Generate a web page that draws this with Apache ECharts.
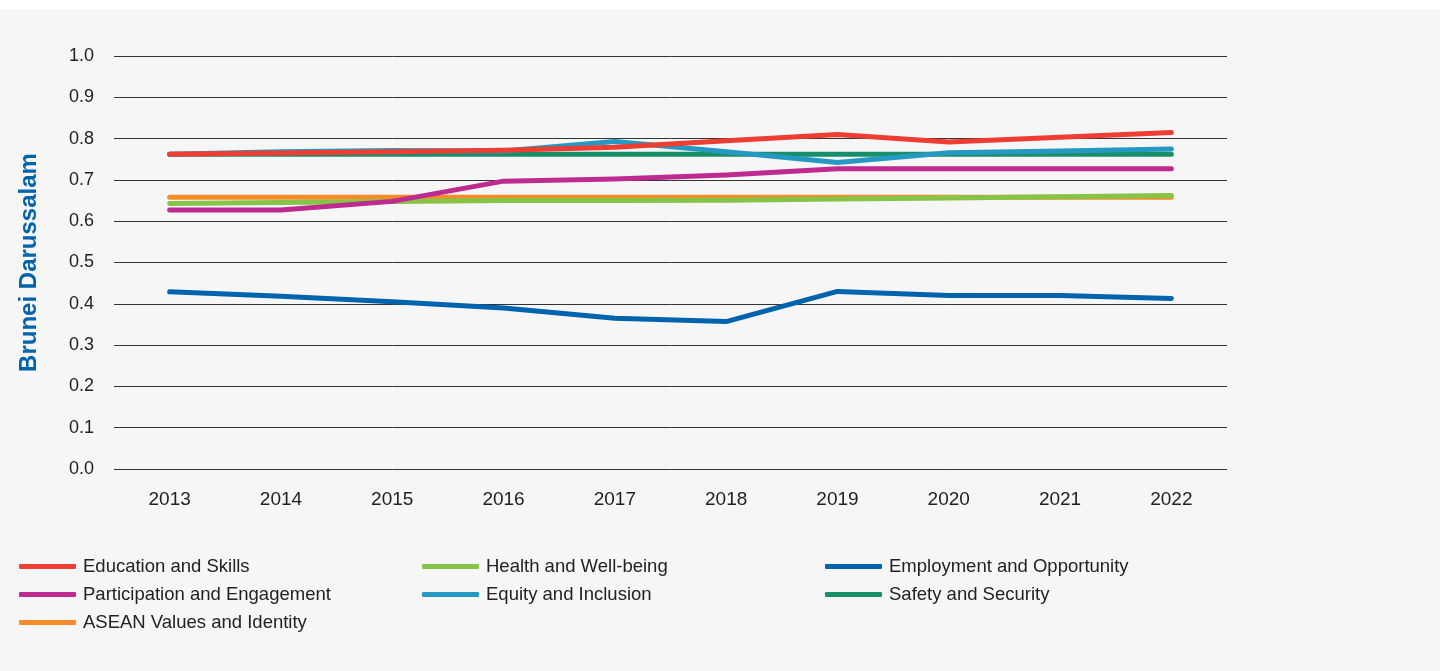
<!DOCTYPE html>
<html>
<head>
<meta charset="utf-8">
<script src="https://cdn.jsdelivr.net/npm/echarts@6/dist/echarts.min.js"></script>
<style>
  html, body { margin: 0; padding: 0; background: #ffffff; }
  #chart { position: absolute; top: 9px; left: 0; width: 1440px; height: 662px; background: #f6f6f6; }
</style>
</head>
<body>
<div id="chart"></div>
<script>
var years = ['2013', '2014', '2015', '2016', '2017', '2018', '2019', '2020', '2021', '2022'];

var education = [0.762, 0.765, 0.768, 0.772, 0.779, 0.795, 0.810, 0.792, 0.803, 0.815];
var health = [0.643, 0.645, 0.648, 0.650, 0.650, 0.651, 0.654, 0.656, 0.659, 0.662];
var employment = [0.429, 0.418, 0.405, 0.390, 0.365, 0.357, 0.430, 0.420, 0.420, 0.413];
var participation = [0.627, 0.627, 0.648, 0.697, 0.702, 0.712, 0.727, 0.727, 0.727, 0.727];
var equity = [0.762, 0.768, 0.771, 0.770, 0.793, 0.768, 0.742, 0.766, 0.770, 0.775];
var safety = [0.762, 0.762, 0.762, 0.762, 0.762, 0.762, 0.762, 0.762, 0.762, 0.762];
var asean = [0.658, 0.658, 0.658, 0.658, 0.658, 0.658, 0.658, 0.658, 0.658, 0.658];

var font = 'Liberation Sans, Arial, Helvetica, sans-serif';

function line(name, data, color, z) {
    return {
        name: name,
        type: 'line',
        data: data,
        z: z,
        symbol: 'none',
        lineStyle: { width: 5, color: color, cap: 'round', join: 'round' },
        itemStyle: { color: color }
    };
}

function legendCol(left, names) {
    return {
        orient: 'vertical',
        left: left,
        top: 548,
        padding: 0,
        itemWidth: 57,
        itemHeight: 5,
        itemGap: 9,
        icon: 'roundRect',
        data: names,
        textStyle: { fontFamily: font, fontSize: 18.5, lineHeight: 18, color: '#222222', padding: [0, 0, 0, 2] }
    };
}

var chart = echarts.init(document.getElementById('chart'));
chart.setOption({
    backgroundColor: '#f6f6f6',
    animation: false,
    grid: { left: 114, right: 213, top: 47, bottom: 202 },
    legend: [
        legendCol(19, ['Education and Skills', 'Participation and Engagement', 'ASEAN Values and Identity']),
        legendCol(422, ['Health and Well-being', 'Equity and Inclusion']),
        legendCol(825, ['Employment and Opportunity', 'Safety and Security'])
    ],
    xAxis: {
        type: 'category',
        data: years,
        boundaryGap: true,
        axisLine: { show: false },
        axisTick: { show: false },
        axisLabel: { fontFamily: font, fontSize: 19, color: '#222222', margin: 21 }
    },
    yAxis: {
        type: 'value',
        min: 0,
        max: 1,
        interval: 0.1,
        name: 'Brunei Darussalam',
        nameLocation: 'middle',
        nameGap: 73,
        nameTextStyle: { fontFamily: font, fontSize: 24, fontWeight: 'bold', color: '#0063ad' },
        axisLabel: {
            fontFamily: font, fontSize: 18, color: '#222222', margin: 20,
            formatter: function (v) { return v.toFixed(1); }
        },
        splitLine: { lineStyle: { color: '#333333', width: 1 } }
    },
    series: [
        line('Safety and Security', safety, '#188f6a', 2),
        line('ASEAN Values and Identity', asean, '#f68b2a', 2),
        line('Health and Well-being', health, '#86c447', 3),
        line('Participation and Engagement', participation, '#be2a8f', 3),
        line('Equity and Inclusion', equity, '#2599c1', 4),
        line('Employment and Opportunity', employment, '#0063ad', 4),
        line('Education and Skills', education, '#ee3d33', 5)
    ]
});
</script>
</body>
</html>
